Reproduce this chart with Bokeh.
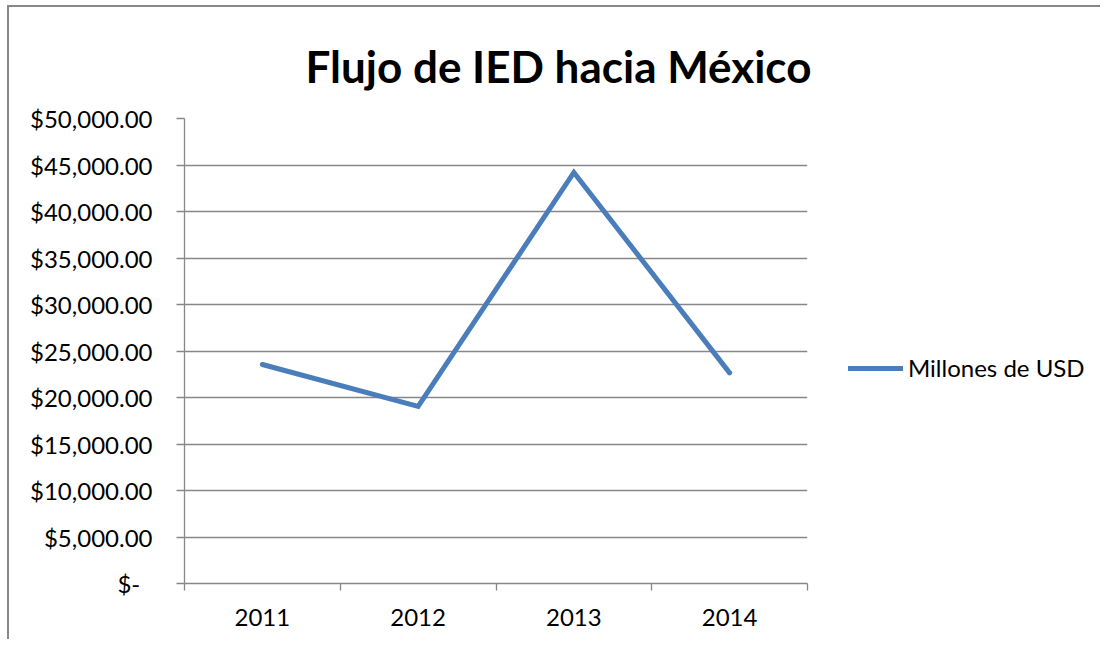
from bokeh.plotting import figure
from bokeh.layouts import row
from bokeh.models import (Range1d, FactorRange, LinearAxis, CategoricalAxis, FixedTicker,
                          SingleIntervalTicker, NumeralTickFormatter, Legend, LegendItem,
                          Title)
from bokeh.embed import file_html
from bokeh.resources import INLINE

# ---- data ----
years = ["2011", "2012", "2013", "2014"]
ied_millones_usd = [23550, 19050, 44200, 22650]
series_name = "Millones de USD"
chart_title = "Flujo de IED hacia México"
y_max = 50000
y_step = 5000

FONT = "Lato"
GRAY = "#878787"
BLUE = "#4A7EBB"

OX, OY = 9, 7          # drawing origin inside the outer chart border
H = 632                # figure height
FRAME_L, FRAME_R, FRAME_T, FRAME_B = 184, 807, 118, 583
P_RIGHT = 840          # right edge of the main figure (room for the title)

p = figure(width=P_RIGHT - OX, height=H, output_backend="svg", toolbar_location=None,
           x_range=FactorRange(*years), y_range=Range1d(0, y_max),
           x_axis_location=None, y_axis_location=None,
           min_border_left=FRAME_L - OX, min_border_right=P_RIGHT - FRAME_R,
           min_border_top=FRAME_T - OY, min_border_bottom=OY + H - FRAME_B)
p.outline_line_color = None
p.background_fill_color = "white"
p.border_fill_color = "white"

# title
t = Title(text=chart_title, align="left", offset=121, text_font=FONT,
          text_font_size="44px", text_font_style="bold", text_color="black", standoff=54)
p.add_layout(t, "above")

# y axis
yax = LinearAxis(ticker=SingleIntervalTicker(interval=y_step, num_minor_ticks=0),
                 formatter=NumeralTickFormatter(format="$0,0.00"))
yax.major_label_overrides = {0: "$-\u00a0\u00a0"}
yax.axis_line_color = GRAY
yax.axis_line_width = 1.3
yax.major_tick_line_color = GRAY
yax.major_tick_line_width = 1.3
yax.major_tick_out = 8
yax.major_tick_in = 0
yax.minor_tick_line_color = None
yax.major_label_standoff = 24
yax.major_label_text_font = FONT
yax.major_label_text_font_size = "24px"
yax.major_label_text_color = "black"
p.add_layout(yax, "left")

# x axis: ticks at category boundaries (synthetic coordinates 0..n)
bax = LinearAxis(ticker=FixedTicker(ticks=list(range(len(years) + 1))))
bax.major_label_overrides = {i: "" for i in range(len(years) + 1)}
bax.major_label_text_font_size = "0px"
bax.major_label_standoff = 0
bax.axis_line_color = GRAY
bax.axis_line_width = 1.3
bax.major_tick_line_color = GRAY
bax.major_tick_line_width = 1.3
bax.major_tick_out = 7
bax.major_tick_in = 0
bax.minor_tick_line_color = None
p.add_layout(bax, "below")

# x axis: category labels
cax = CategoricalAxis()
cax.axis_line_color = None
cax.major_tick_line_color = None
cax.major_label_standoff = 12
cax.major_label_text_font = FONT
cax.major_label_text_font_size = "24px"
cax.major_label_text_color = "black"
p.add_layout(cax, "below")

# grid
p.ygrid.ticker = SingleIntervalTicker(interval=y_step)
p.ygrid.grid_line_color = GRAY
p.ygrid.grid_line_width = 1.3
p.xgrid.grid_line_color = None

# series line
line_style = dict(line_width=5, line_color=BLUE, line_cap="round", line_join="miter")
r = p.line(x=years, y=ied_millones_usd, **line_style)

# legend area to the right (its own figure; the series copy lies outside its view)
pl = figure(width=1100 - P_RIGHT, height=H, output_backend="svg", toolbar_location=None,
            x_range=FactorRange(*years), y_range=Range1d(-2 * y_max, -y_max),
            x_axis_location=None, y_axis_location=None,
            min_border_left=0, min_border_right=0, min_border_top=0, min_border_bottom=0)
pl.outline_line_color = None
pl.xgrid.grid_line_color = None
pl.ygrid.grid_line_color = None
pl.border_fill_color = "white"
pl.background_fill_color = "white"
rl = pl.line(x=years, y=ied_millones_usd, **line_style)

legend = Legend(items=[LegendItem(label=series_name, renderers=[rl])],
                location=(848 - P_RIGHT, FRAME_B - 369 - 13), padding=0, margin=0, spacing=0,
                glyph_width=55, glyph_height=26, label_height=26, label_standoff=5,
                label_text_font=FONT, label_text_font_size="24px", label_text_color="black",
                border_line_color=None, background_fill_alpha=0)
pl.add_layout(legend, "center")

layout = row(p, pl, spacing=0,
             styles={"margin-left": "7px", "margin-top": "5px",
                     "border-left": "2px solid #878787", "border-top": "2px solid #878787"})

open("out.html", "w").write(file_html(layout, INLINE))
